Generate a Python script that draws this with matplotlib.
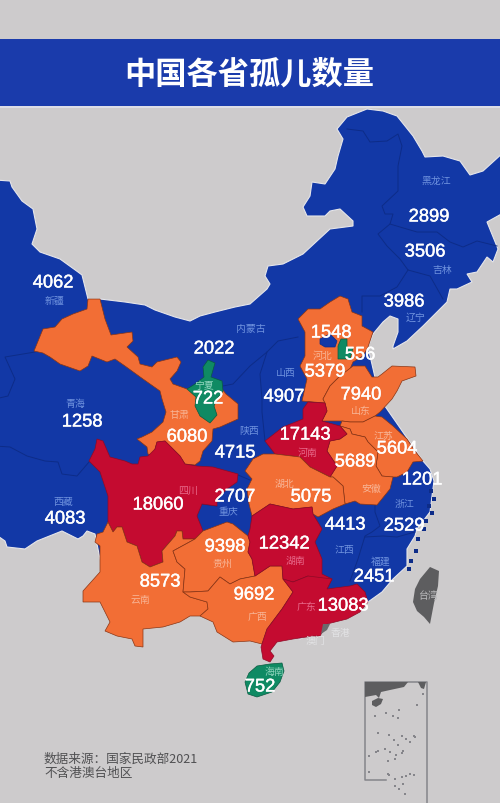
import matplotlib
matplotlib.use("Agg")
import matplotlib.pyplot as plt
import matplotlib.patheffects as pe
from matplotlib.patches import Polygon, Rectangle

plt.rcParams['font.family'] = ['Noto Sans CJK SC', 'DejaVu Sans']

# Values
provinces = ['新疆', '黑龙江', '吉林', '辽宁', '内蒙古', '北京', '天津', '河北', '山西', '山东',
             '宁夏', '甘肃', '青海', '陕西', '河南', '江苏', '安徽', '上海', '湖北', '四川',
             '重庆', '西藏', '江西', '浙江', '贵州', '湖南', '福建', '云南', '广西', '广东', '海南']
orphans = [4062, 2899, 3506, 3986, 2022, 1548, 556, 5379, 4907, 7940,
           722, 6080, 1258, 4715, 17143, 5604, 5689, 1201, 5075, 18060,
           2707, 4083, 4413, 2529, 9398, 12342, 2451, 8573, 9692, 13083, 752]
title = '中国各省孤儿数量'
source_lines = ['数据来源：国家民政部2021', '不含港澳台地区']

# Colour classes
BLUE = '#1238a6'
ORANGE = '#f26e35'
RED = '#c40b30'
GREEN = '#0f8a63'


def class_colour(v):
    if v < 1000:
        return GREEN
    if v < 5000:
        return BLUE
    if v < 10000:
        return ORANGE
    return RED


# Outlines, in picture pixels
china = [(-5, 181), (10, 182), (12, 188), (22, 202), (33, 210), (37, 230), (32, 245), (40, 253), (60, 260),
         (78, 273), (82, 276), (88, 300), (100, 300), (125, 303), (145, 306), (155, 311), (175, 318), (190, 322),
         (200, 317), (215, 313), (235, 308), (250, 305), (267, 290), (270, 285), (265, 277), (268, 267), (283, 265),
         (303, 255), (317, 242), (330, 230), (353, 227), (353, 222), (340, 210), (330, 212), (325, 217), (307, 217),
         (303, 208), (310, 197), (312, 183), (325, 185), (335, 170), (338, 157), (343, 140), (337, 130), (347, 118),
         (367, 110), (383, 112), (397, 117), (413, 137), (422, 152), (425, 158), (443, 157), (460, 162), (470, 176),
         (483, 172), (505, 152), (505, 213), (487, 223), (498, 250), (493, 263), (487, 258), (477, 273), (467, 275),
         (472, 283), (457, 290), (450, 290), (447, 303), (423, 327), (407, 342), (393, 350), (393, 347), (398, 333),
         (398, 320), (390, 317), (383, 323), (373, 335), (368, 348), (380, 400), (423, 462), (430, 470), (434, 482),
         (432, 497), (430, 513), (417, 530), (415, 537), (407, 550), (407, 567), (393, 580), (382, 593), (368, 603),
         (300, 640), (100, 560), (95, 535), (87, 532), (83, 537), (78, 540), (62, 532), (37, 542), (25, 550),
         (7, 548), (5, 542), (-5, 535)]
hebei = [(340, 297), (348, 300), (352, 313), (362, 317), (362, 327), (373, 333), (368, 348), (363, 357), (353, 363),
         (350, 370), (340, 377), (330, 387), (323, 400), (325, 404), (302, 402), (307, 380), (300, 367), (305, 357),
         (305, 333), (298, 320), (308, 310), (320, 310), (330, 303)]
beijing = [(320, 340), (330, 335), (337, 342), (335, 348), (325, 348), (320, 345)]
tianjin = [(341, 340), (347, 340), (347, 348), (353, 349), (350, 360), (338, 360), (338, 347)]
shandong = [(340, 377), (353, 367), (365, 367), (372, 378), (378, 378), (382, 375), (392, 367), (415, 368), (416, 377),
            (402, 382), (397, 392), (392, 400), (380, 413), (375, 417), (363, 423), (350, 423), (342, 422), (322, 422),
            (327, 412), (325, 404), (323, 400), (330, 387)]
jiangsu = [(342, 422), (350, 423), (363, 423), (375, 417), (382, 418), (393, 427), (407, 440), (415, 452), (423, 462),
           (413, 463), (407, 473), (397, 478), (390, 478), (382, 477), (376, 467), (378, 453), (368, 443), (365, 438),
           (352, 435), (350, 430), (340, 427)]
henan = [(303, 410), (308, 403), (325, 404), (327, 412), (322, 422), (340, 427), (347, 435), (340, 440), (330, 442),
         (327, 452), (337, 467), (330, 478), (310, 468), (300, 458), (275, 455), (265, 442), (283, 428), (303, 420)]
anhui = [(340, 427), (350, 430), (352, 435), (365, 438), (368, 443), (378, 453), (376, 467), (382, 477), (393, 478),
         (390, 490), (377, 506), (360, 505), (355, 502), (345, 505), (343, 487), (333, 478), (330, 478), (337, 467),
         (327, 452), (330, 442), (340, 440), (347, 435)]
hubei = [(253, 460), (263, 455), (275, 455), (300, 458), (310, 468), (330, 478), (333, 478), (343, 487), (345, 505),
         (333, 510), (318, 518), (313, 515), (312, 508), (293, 510), (270, 505), (252, 517), (249, 505), (247, 490),
         (252, 480), (245, 472)]
hunan = [(252, 517), (270, 505), (293, 510), (312, 508), (313, 515), (322, 530), (315, 543), (322, 560), (322, 575),
         (332, 580), (327, 590), (308, 577), (293, 583), (283, 580), (282, 567), (270, 567), (255, 577), (252, 560),
         (248, 553), (250, 543), (248, 537), (250, 530)]
guangdong = [(283, 580), (293, 583), (308, 577), (332, 580), (327, 590), (350, 587), (357, 585), (365, 593), (368, 603),
             (360, 613), (347, 620), (327, 625), (320, 637), (313, 637), (293, 640), (277, 643), (270, 652), (274, 657),
             (270, 663), (263, 660), (261, 648), (267, 630), (282, 610), (293, 593)]
guangxi = [(208, 592), (220, 578), (230, 585), (240, 580), (255, 577), (270, 567), (282, 567), (283, 580), (293, 593),
           (282, 610), (267, 630), (262, 645), (250, 642), (233, 643), (217, 633), (213, 623), (200, 617), (208, 610),
           (207, 603), (190, 598), (183, 593), (190, 593)]
guizhou = [(173, 552), (195, 540), (203, 532), (227, 523), (233, 525), (248, 537), (250, 543), (248, 553), (252, 560),
           (255, 577), (240, 580), (230, 585), (220, 578), (208, 592), (190, 593), (183, 593), (185, 570), (177, 563)]
yunnan = [(108, 523), (113, 533), (117, 528), (122, 528), (127, 543), (137, 547), (142, 563), (150, 568), (163, 563),
          (162, 552), (175, 537), (177, 532), (182, 532), (183, 540), (195, 540), (173, 552), (177, 563), (185, 570),
          (183, 593), (190, 598), (207, 603), (208, 610), (200, 617), (190, 617), (180, 623), (163, 628), (143, 630),
          (143, 648), (135, 647), (132, 640), (117, 637), (105, 632), (110, 623), (100, 603), (83, 603), (83, 592),
          (100, 573), (100, 547), (95, 543), (97, 535), (103, 533)]
sichuan = [(97, 440), (103, 442), (110, 458), (125, 462), (132, 465), (138, 465), (140, 458), (148, 457), (155, 450),
           (157, 443), (165, 442), (180, 457), (185, 465), (197, 467), (213, 468), (238, 475), (237, 483), (227, 490),
           (217, 500), (217, 507), (202, 505), (197, 517), (203, 532), (195, 540), (183, 540), (182, 532), (177, 532),
           (175, 537), (162, 552), (163, 563), (150, 568), (142, 563), (137, 547), (127, 543), (122, 528), (117, 528),
           (113, 533), (108, 523), (108, 497), (100, 473), (89, 462), (95, 450)]
gansu = [(88, 300), (100, 300), (105, 320), (111, 336), (132, 333), (133, 342), (127, 348), (138, 358), (140, 365),
         (152, 368), (157, 363), (177, 358), (181, 363), (177, 372), (170, 380), (173, 385), (187, 390), (204, 385),
         (222, 390), (226, 395), (238, 405), (238, 420), (220, 428), (213, 430), (212, 442), (203, 452), (200, 462),
         (195, 466), (185, 465), (180, 457), (165, 442), (157, 443), (155, 450), (153, 457), (148, 455), (147, 448),
         (137, 440), (142, 438), (152, 433), (163, 423), (166, 413), (162, 400), (160, 392), (143, 380), (125, 367),
         (115, 360), (107, 363), (92, 357), (88, 367), (80, 372), (60, 365), (50, 358), (43, 354), (34, 352),
         (43, 330), (55, 328), (62, 320), (73, 315), (87, 310)]
ningxia = [(208, 361), (215, 364), (211, 378), (222, 382), (223, 392), (217, 400), (214, 407), (217, 416), (210, 424),
           (200, 417), (195, 407), (196, 398), (187, 390), (195, 385), (204, 378), (203, 368)]
hainan = [(257, 667), (270, 665), (282, 664), (284, 672), (280, 683), (272, 693), (257, 698), (248, 695), (245, 683),
          (249, 674)]
taiwan = [(430, 568), (439, 572), (438, 587), (434, 604), (430, 625), (424, 618), (417, 612), (413, 603), (415, 590),
          (420, 580)]
hongkong = [(323, 625), (330, 625), (327, 631), (321, 635)]

# Province borders inside the blue area
blue_borders = [
    [(35, 353), (5, 358), (15, 380), (8, 397), (-5, 400)],
    [(-5, 447), (10, 448), (27, 457), (45, 462), (58, 463), (62, 475), (77, 477), (89, 463)],
    [(347, 130), (363, 132), (370, 143), (387, 142), (398, 135), (402, 147), (398, 167), (398, 192), (382, 207),
     (385, 215), (393, 215), (390, 225), (378, 235), (387, 247), (400, 260), (408, 271), (430, 277), (443, 300)],
    [(390, 225), (400, 228), (417, 233), (437, 233), (450, 243), (463, 248), (477, 242), (497, 247)],
    [(408, 271), (397, 288), (380, 297), (362, 297), (362, 313)],
    [(223, 387), (233, 385), (250, 367), (267, 353), (278, 342), (298, 338)],
    [(267, 353), (260, 375), (262, 400), (262, 413), (265, 442)],
    [(375, 506), (375, 513), (380, 527), (372, 533), (365, 537), (358, 560), (350, 582)],
    [(365, 538), (383, 537), (397, 538), (415, 533)],
    [(238, 476), (250, 481)],
    [(202, 505), (217, 507)],
]

shapes = {'河北': hebei, '北京': beijing, '天津': tianjin, '山东': shandong, '江苏': jiangsu, '河南': henan,
          '安徽': anhui, '湖北': hubei, '湖南': hunan, '广东': guangdong, '广西': guangxi, '贵州': guizhou,
          '云南': yunnan, '四川': sichuan, '甘肃': gansu, '宁夏': ningxia, '海南': hainan}

# Where the numbers and the names sit
value_xy = {'新疆': (53, 284), '黑龙江': (429, 218), '吉林': (425, 253), '辽宁': (404, 303), '内蒙古': (214, 350),
            '北京': (331, 334), '天津': (360, 356), '河北': (325, 373), '山西': (284, 398), '山东': (361, 396),
            '宁夏': (208, 400), '甘肃': (187, 438), '青海': (82, 423), '陕西': (235, 454), '河南': (305, 436),
            '江苏': (397, 450), '安徽': (355, 463), '上海': (422, 481), '湖北': (311, 498), '四川': (158, 506),
            '重庆': (235, 498), '西藏': (65, 520), '江西': (345, 526), '浙江': (404, 527), '贵州': (225, 548),
            '湖南': (284, 545), '福建': (374, 578), '云南': (160, 583), '广西': (254, 596), '广东': (343, 607),
            '海南': (260, 688)}
name_xy = {'新疆': (54, 301), '黑龙江': (436, 181), '吉林': (442, 270), '辽宁': (416, 318), '内蒙古': (251, 329),
           '河北': (323, 356), '山西': (286, 373), '山东': (361, 411), '宁夏': (204, 386), '甘肃': (179, 415),
           '青海': (75, 404), '陕西': (249, 431), '河南': (308, 453), '江苏': (383, 436), '安徽': (371, 489),
           '湖北': (284, 484), '四川': (188, 491), '重庆': (228, 512), '西藏': (63, 502), '江西': (344, 550),
           '浙江': (404, 504), '贵州': (222, 564), '湖南': (295, 561), '福建': (381, 562), '云南': (140, 600),
           '广西': (257, 617), '广东': (306, 607), '海南': (274, 672), '台湾': (428, 596), '香港': (341, 633),
           '澳门': (315, 641)}

# Small islands off the east coast
islands_x = [431, 434, 429, 432, 426, 424, 418, 416, 411, 409]
islands_y = [492, 500, 507, 514, 522, 530, 540, 552, 562, 570]

# South China Sea inset, sketched
inset_land = [(365, 683), (408, 683), (404, 688), (390, 691), (381, 693), (379, 699), (376, 696), (365, 698)]
inset_taiwan = [(418, 683), (426, 683), (424, 690), (421, 689)]
inset_hainan = [(372, 702), (378, 699), (383, 700), (381, 705), (376, 708), (372, 706)]
inset_dots_x = [399, 375, 386, 393, 398, 417, 402, 415, 378, 389, 394, 398, 406, 410, 414, 378, 385, 390, 396, 403,
                369, 376, 388, 395, 402, 388, 369, 389, 395, 402, 406, 410, 414, 395, 399, 403, 423, 405]
inset_dots_y = [711, 717, 714, 717, 719, 706, 737, 738, 734, 736, 741, 746, 740, 743, 737, 752, 750, 753, 756, 752,
                757, 753, 762, 760, 754, 775, 773, 776, 780, 778, 777, 775, 776, 787, 790, 785, 695, 795]

fig = plt.figure(figsize=(5, 8.04), dpi=100, facecolor='#cdcbcc')
ax = fig.add_axes([0, 0, 1, 1])
ax.set_xlim(0, 500)
ax.set_ylim(804, 0)
ax.axis('off')

# Title band
ax.add_patch(Rectangle((0, 40), 500, 67, fc='#1a3bab', ec='none', zorder=1))
ax.add_patch(Rectangle((0, 107), 500, 2, fc='#dcdde6', ec='none', zorder=1))
ax.text(249, 75, title, color='white', fontsize=22.5, fontweight='bold', ha='center', va='center', zorder=6)

# Land
ax.add_patch(Polygon(china, closed=True, fc=BLUE, ec='#e6e6ea', lw=0.8, zorder=2))
for line in blue_borders:
    ax.plot([p[0] for p in line], [p[1] for p in line], color='#0d2c88', lw=0.7, zorder=3)
ax.scatter(islands_x, islands_y, s=5, c='#0d2c88', marker='s', linewidths=0, zorder=3)

colours = dict(zip(provinces, [class_colour(v) for v in orphans]))
edge = {BLUE: '#0d2c88', ORANGE: '#8a3514', RED: '#8f0a25', GREEN: '#0a5a40'}
draw_order = ['甘肃', '河北', '北京', '天津', '山东', '江苏', '安徽', '河南', '湖北', '四川', '云南', '贵州', '广西',
              '湖南', '广东', '宁夏', '海南']
for name in draw_order:
    c = colours[name]
    ax.add_patch(Polygon(shapes[name], closed=True, fc=c, ec=edge[c], lw=0.5, zorder=4))
ax.add_patch(Polygon(taiwan, closed=True, fc='#5d5d5f', ec='none', zorder=4))
ax.add_patch(Polygon(hongkong, closed=True, fc='#6a6a6c', ec='none', zorder=4))

# Inset box
ax.plot([386, 365, 365, 427, 427], [781, 781, 683, 683, 804], color='#85858a', lw=1.1, zorder=3)
for shape in (inset_land, inset_taiwan, inset_hainan):
    ax.add_patch(Polygon(shape, closed=True, fc='#5d5d5f', ec='none', zorder=4))
ax.scatter(inset_dots_x, inset_dots_y, s=2, c='#85858a', marker='s', linewidths=0, zorder=4)

# Labels
name_colour = {BLUE: '#6f92de', ORANGE: '#f8b596', RED: '#e8698a', GREEN: '#8fd4bd'}
for name, (x, y) in name_xy.items():
    if name in colours:
        col = name_colour[colours[name]]
    else:
        col = '#b9b9bb' if name == '台湾' else '#e2e2e4'
    ax.text(x, y, name, color=col, fontsize=7.1, ha='center', va='center', zorder=5)
for name, v in zip(provinces, orphans):
    x, y = value_xy[name]
    ax.text(x, y, str(v), color='white', fontsize=13.2, family=['Liberation Sans', 'DejaVu Sans'],
            ha='center', va='center', zorder=6,
            path_effects=[pe.withStroke(linewidth=0.3, foreground='white')])

for y, line in zip((759, 774), source_lines):
    ax.text(44, y, line, color='#505052', fontsize=9.1, ha='left', va='center', zorder=6)

fig.savefig('out.png', dpi=100, facecolor=fig.get_facecolor())
